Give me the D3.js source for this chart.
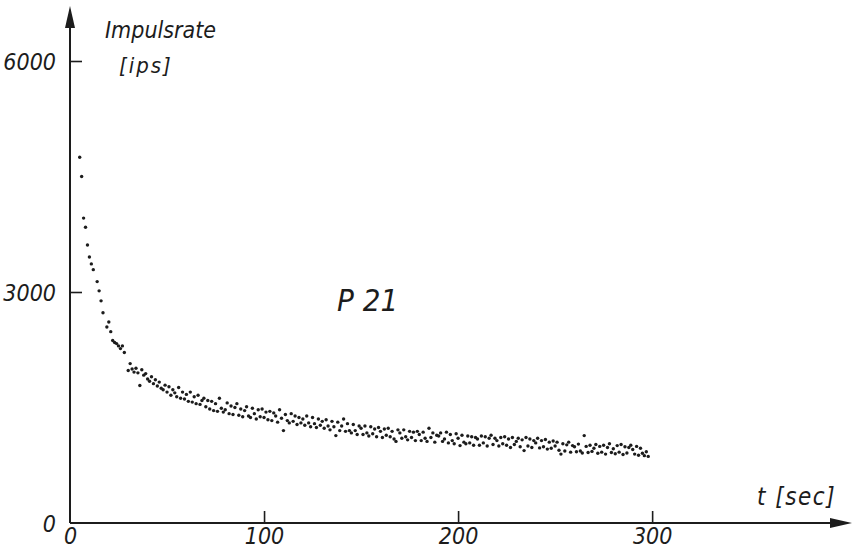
<!DOCTYPE html>
<html>
<head>
<meta charset="utf-8">
<script src="https://d3js.org/d3.v7.min.js"></script>
<style>
  body { margin: 0; background: #fff; }
  text { font-family: "DejaVu Sans Condensed", "Liberation Sans Narrow", "DejaVu Sans", sans-serif; font-style: italic; fill: #1c1c1c; }
</style>
</head>
<body>
<div id="chart"></div>
<script>
// seconds of the first (sparser) readings, then one reading per second
var earlySeconds = [5, 6, 7, 8, 9, 10, 11, 12, 14, 15, 16, 17, 19, 20, 21, 22, 23, 24, 25, 26, 27, 28];
var earlyRates = [4750, 4500, 3960, 3840, 3610, 3455, 3365, 3290, 3135, 3015, 2885, 2730,
  2545, 2610, 2485, 2370, 2345, 2330, 2300, 2265, 2300, 2215];

var laterStart = 30;
var laterRates = [
  1980, 2070, 2000, 1960, 2010, 1950, 1785, 1990, 1920, 1940,
  1870, 1840, 1900, 1810, 1860, 1780, 1830, 1750, 1730, 1790,
  1700, 1770, 1660, 1730, 1690, 1640, 1760, 1620, 1700, 1610,
  1670, 1580, 1700, 1570, 1640, 1550, 1660, 1540, 1590, 1620,
  1510, 1590, 1480, 1580, 1460, 1550, 1450, 1620, 1490, 1440,
  1470, 1560, 1420, 1520, 1410, 1500, 1550, 1400, 1480, 1380,
  1460, 1510, 1390, 1370, 1490, 1420, 1350, 1470, 1380, 1480,
  1370, 1440, 1340, 1450, 1330, 1430, 1390, 1310, 1470, 1360,
  1200, 1410, 1330, 1300, 1420, 1320, 1390, 1280, 1370, 1300,
  1350, 1270, 1390, 1300, 1250, 1370, 1290, 1240, 1350, 1270,
  1320, 1230, 1340, 1260, 1210, 1320, 1250, 1135, 1310, 1200,
  1260, 1350, 1190, 1290, 1200, 1170, 1280, 1200, 1150, 1260,
  1230, 1150, 1260, 1170, 1130, 1250, 1160, 1220, 1120, 1240,
  1190, 1110, 1220, 1140, 1230, 1120, 1190, 1090, 1060, 1210,
  1170, 1100, 1210, 1120, 1080, 1190, 1110, 1180, 1070, 1190,
  1150, 1070, 1180, 1100, 1060, 1230, 1110, 1170, 1050, 1140,
  1130, 1170, 1060, 1090, 1180, 1040, 1150, 1070, 1030, 1160,
  1100, 1005, 1140, 1050, 1030, 1130, 1040, 1120, 1010, 1110,
  1090, 1010, 1130, 1040, 1120, 1000, 1100, 1140, 1020, 1100,
  1070, 1000, 1110, 1030, 1120, 1010, 1090, 980, 1110, 1020,
  1060, 1100, 990, 1080, 940, 1110, 1000, 1090, 980, 1070,
  1040, 1100, 975, 1070, 990, 1085, 960, 1050, 970, 1065,
  1000, 1050, 945, 895, 1030, 935, 1015, 1050, 920, 1005,
  990, 925, 1025, 935, 910, 1135, 995, 915, 1010, 930,
  970, 1020, 905, 995, 920, 1010, 895, 980, 1030, 915,
  965, 900, 1005, 920, 1020, 890, 990, 910, 980, 1010,
  955, 895, 995, 880, 970, 905, 875, 925, 865
];

var xTicks = [0, 100, 200, 300];
var yTicks = [0, 3000, 6000];

var data = earlySeconds.map(function (s, i) {
  return { t: s, rate: earlyRates[i] };
}).concat(laterRates.map(function (r, i) {
  return { t: laterStart + i, rate: r };
}));

var width = 854, height = 553;
var ink = "#1c1c1c";

var svg = d3.select("#chart").append("svg")
  .attr("width", width)
  .attr("height", height);

var x = d3.scaleLinear().domain([0, 403]).range([70, 852]);
var y = d3.scaleLinear().domain([0, 6000]).range([523, 61]);

// x axis, ticks pointing up
var xAxis = svg.append("g")
  .attr("transform", "translate(0," + y(0) + ")")
  .call(d3.axisBottom(x).tickValues(xTicks).tickFormat(d3.format("d"))
    .tickSizeInner(-12).tickSizeOuter(0).tickPadding(5));
xAxis.select(".domain").remove();
xAxis.selectAll(".tick line").attr("stroke", ink).attr("stroke-width", 1.6)
  .filter(function (d) { return d === 0; }).remove();
xAxis.selectAll(".tick text").attr("fill", ink).style("font-size", "23px").attr("font-family", null);

// y axis, ticks pointing right
var yAxis = svg.append("g")
  .attr("transform", "translate(" + x(0) + ",0)")
  .call(d3.axisLeft(y).tickValues(yTicks).tickFormat(d3.format("d"))
    .tickSizeInner(-12).tickSizeOuter(0).tickPadding(14));
yAxis.select(".domain").remove();
yAxis.selectAll(".tick line").attr("stroke", ink).attr("stroke-width", 1.6)
  .filter(function (d) { return d === 0; }).remove();
yAxis.selectAll(".tick text").attr("fill", ink).style("font-size", "23px").attr("font-family", null)
  .attr("dy", "0.36em");

// axis lines with arrow heads
svg.append("line")
  .attr("x1", x(0)).attr("x2", x(403) - 10)
  .attr("y1", y(0)).attr("y2", y(0))
  .attr("stroke", ink).attr("stroke-width", 2);
svg.append("path")
  .attr("d", "M" + x(403) + "," + y(0) + "l-22,-5l0,10z")
  .attr("fill", ink);

svg.append("line")
  .attr("x1", x(0)).attr("x2", x(0))
  .attr("y1", y(0)).attr("y2", 20)
  .attr("stroke", ink).attr("stroke-width", 2);
svg.append("path")
  .attr("d", "M" + x(0) + ",6l-5,22l10,0z")
  .attr("fill", ink);

// labels
svg.append("text").attr("x", 105).attr("y", 38).style("font-size", "23px").text("Impulsrate");
svg.append("text").attr("x", 119).attr("y", 73).style("font-size", "22px")
  .style("letter-spacing", "2px").text("[ips]");
svg.append("text").attr("x", 757).attr("y", 505).style("font-size", "24px")
  .style("letter-spacing", "1.5px").text("t [sec]");
svg.append("text").attr("x", 337).attr("y", 311).style("font-size", "31px").text("P 21");

// the readings
svg.append("g")
  .selectAll("circle")
  .data(data)
  .enter()
  .append("circle")
  .attr("cx", function (d) { return x(d.t); })
  .attr("cy", function (d) { return y(d.rate); })
  .attr("r", 1.7)
  .attr("fill", ink);
</script>
</body>
</html>
